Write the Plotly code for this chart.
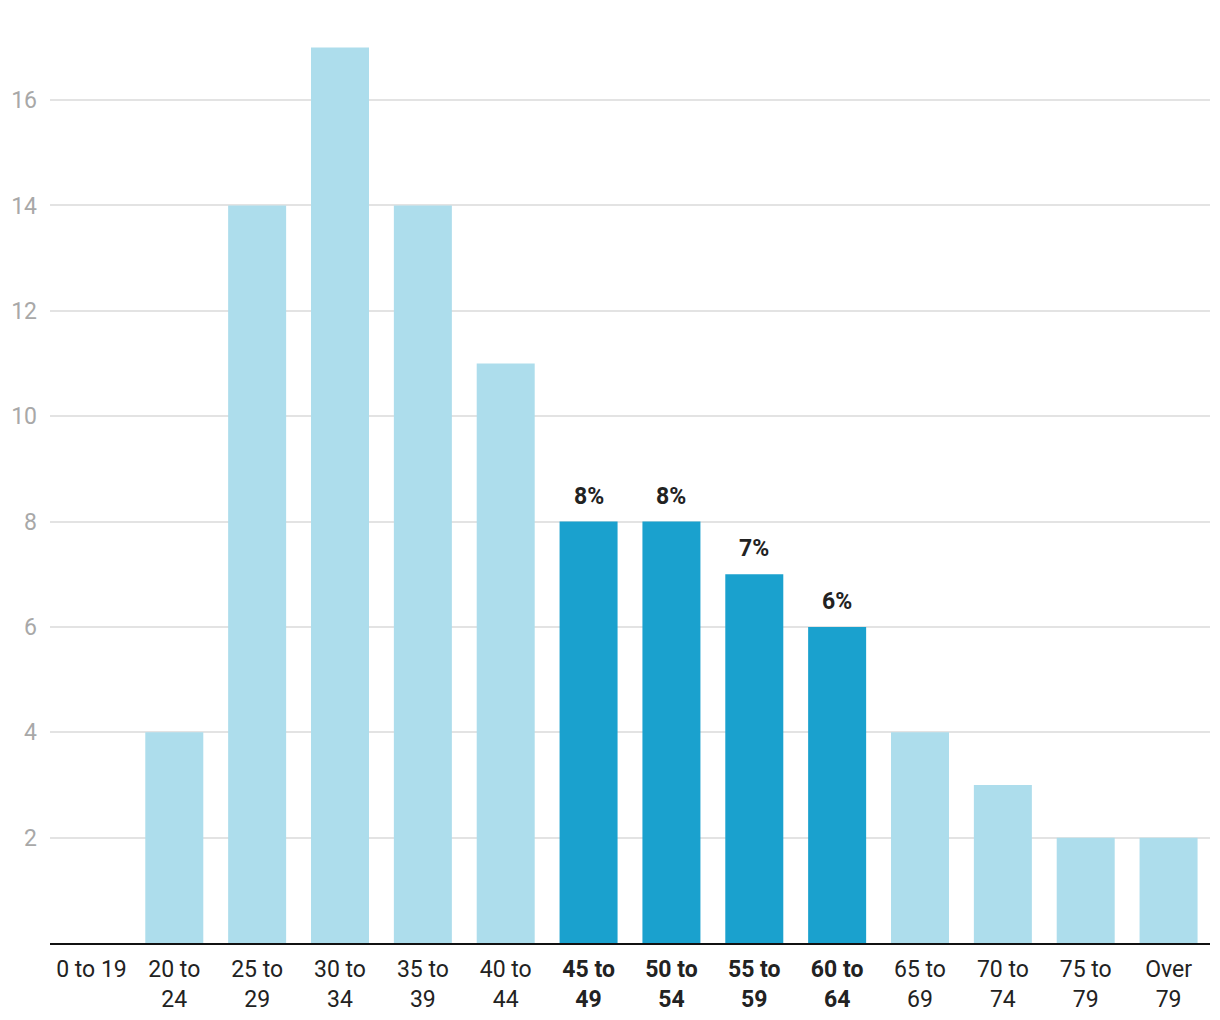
import plotly.graph_objects as go

categories = ["0 to 19", "20 to 24", "25 to 29", "30 to 34", "35 to 39", "40 to 44",
              "45 to 49", "50 to 54", "55 to 59", "60 to 64", "65 to 69", "70 to 74",
              "75 to 79", "Over 79"]
tick_labels = ["0 to 19", "20 to<br>24", "25 to<br>29", "30 to<br>34", "35 to<br>39", "40 to<br>44",
               "<b>45 to<br>49</b>", "<b>50 to<br>54</b>", "<b>55 to<br>59</b>", "<b>60 to<br>64</b>",
               "65 to<br>69", "70 to<br>74", "75 to<br>79", "Over<br>79"]
values = [0, 4, 14, 17, 14, 11, 8, 8, 7, 6, 4, 3, 2, 2]
highlight = [False, False, False, False, False, False, True, True, True, True,
             False, False, False, False]
y_ticks = [2, 4, 6, 8, 10, 12, 14, 16]

LIGHT = "#ADDDEC"
DARK = "#1AA1CE"

colors = [DARK if h else LIGHT for h in highlight]

fig = go.Figure(go.Bar(
    x=categories, y=values, marker=dict(color=colors, line=dict(width=0)),
    hoverinfo="skip",
))

for c, v, h in zip(categories, values, highlight):
    if h:
        fig.add_annotation(x=c, y=v, text=f"<b>{v}%</b>", showarrow=False,
                           yanchor="bottom", yshift=10,
                           font=dict(family="Roboto", size=23, color="#222222"))

fig.update_layout(
    width=1220, height=1020,
    margin=dict(l=50, r=10, t=10, b=77),
    paper_bgcolor="white", plot_bgcolor="white",
    bargap=0.3, showlegend=False,
    font=dict(family="Roboto", size=22, color="#222222"),
)
fig.update_xaxes(
    tickmode="array", tickvals=categories, ticktext=tick_labels,
    tickfont=dict(family="Roboto", size=23, color="#222222"),
    showline=True, linecolor="#111111", linewidth=2, ticks="", showgrid=False,
    ticklabelstandoff=4, automargin=False,
)
fig.update_yaxes(
    range=[0, 17.71], tickvals=y_ticks, showgrid=True, gridcolor="#E3E3E3", gridwidth=1.5,
    zeroline=False, showline=False, ticks="",
    tickfont=dict(family="Roboto", size=23, color="#A8A8A8"),
    ticklabelstandoff=12, automargin=False,
)

fig.write_html("out.html")
